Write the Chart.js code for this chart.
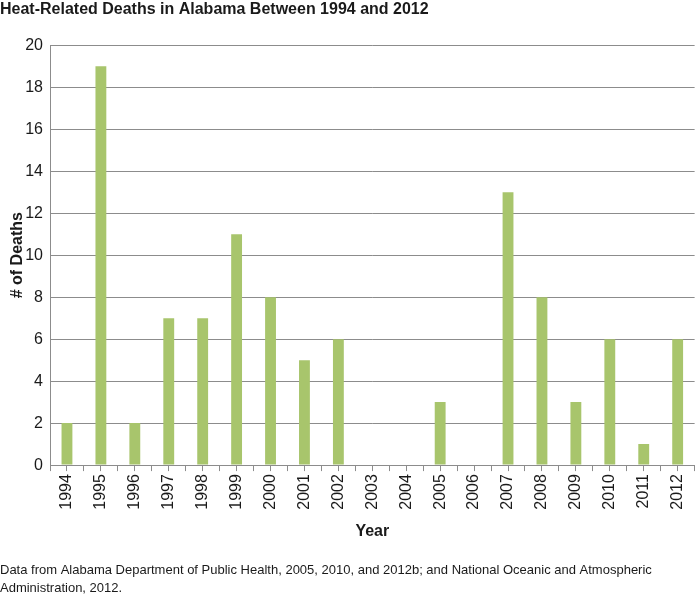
<!DOCTYPE html>
<html>
<head>
<meta charset="utf-8">
<script src="https://cdn.jsdelivr.net/npm/chart.js@4"></script>
<style>
  html, body { margin: 0; padding: 0; background: #fff; }
  #wrap { position: relative; width: 700px; height: 597px; }
</style>
</head>
<body>
<div id="wrap"><canvas id="grafico" width="700" height="597"></canvas></div>
<script>
const anos = ["1994", "1995", "1996", "1997", "1998", "1999", "2000", "2001", "2002", "2003",
  "2004", "2005", "2006", "2007", "2008", "2009", "2010", "2011", "2012"];
const mortes = [2, 19, 2, 7, 7, 11, 8, 5, 6, 0, 0, 3, 0, 13, 8, 3, 6, 1, 6];
const fonte = [
  "Data from Alabama Department of Public Health, 2005, 2010, and 2012b; and National Oceanic and Atmospheric",
  "Administration, 2012."
];

const cinza = "#8c8c8c";
const sans = "'Liberation Sans', Arial, sans-serif";

new Chart(document.getElementById("grafico"), {
  type: "bar",
  data: {
    labels: anos,
    datasets: [{
      data: mortes,
      xAxisID: "x",
      backgroundColor: "#a8c56c",
      barPercentage: 0.32,
      categoryPercentage: 1
    }]
  },
  options: {
    responsive: false,
    animation: false,
    layout: { padding: 0 },
    plugins: {
      legend: { display: false },
      tooltip: { enabled: false },
      title: {
        display: true,
        text: "Heat-Related Deaths in Alabama Between 1994 and 2012",
        align: "start",
        color: "#1a1a1a",
        font: { family: sans, size: 16, weight: "bold" },
        padding: { top: 0, bottom: 26 }
      },
      subtitle: {
        display: true,
        position: "bottom",
        text: fonte,
        align: "start",
        color: "#1a1a1a",
        font: { family: sans, size: 13, lineHeight: 1.35 },
        padding: { top: 21, bottom: 0 }
      }
    },
    scales: {
      y: {
        min: 0,
        max: 20,
        ticks: { stepSize: 2, color: "#1a1a1a", padding: 7, font: { family: sans, size: 16 } },
        grid: { color: cinza, drawTicks: false },
        border: { display: true, color: cinza },
        title: {
          display: true,
          text: "# of Deaths",
          color: "#1a1a1a",
          font: { family: sans, size: 16, weight: "bold" },
          padding: { top: 8, bottom: 0 }
        },
        afterFit: s => { s.width = 50; }
      },
      // tiques no centro de cada categoria (sem ocupar espaço)
      x2: {
        type: "category",
        position: "bottom",
        weight: -1,
        ticks: { display: false },
        grid: { offset: false, drawOnChartArea: false, tickLength: 6, color: cinza },
        border: { display: false },
        afterFit: s => { s.height = 0; }
      },
      x: {
        weight: 0,
        ticks: { color: "#1a1a1a", minRotation: 90, maxRotation: 90, padding: 3, font: { family: sans, size: 16 } },
        grid: { drawOnChartArea: false, tickLength: 6, color: cinza },
        border: { display: true, color: cinza },
        title: {
          display: true,
          text: "Year",
          color: "#1a1a1a",
          font: { family: sans, size: 16, weight: "bold" },
          padding: { top: 9, bottom: 0 }
        }
      }
    }
  }
});
</script>
</body>
</html>
